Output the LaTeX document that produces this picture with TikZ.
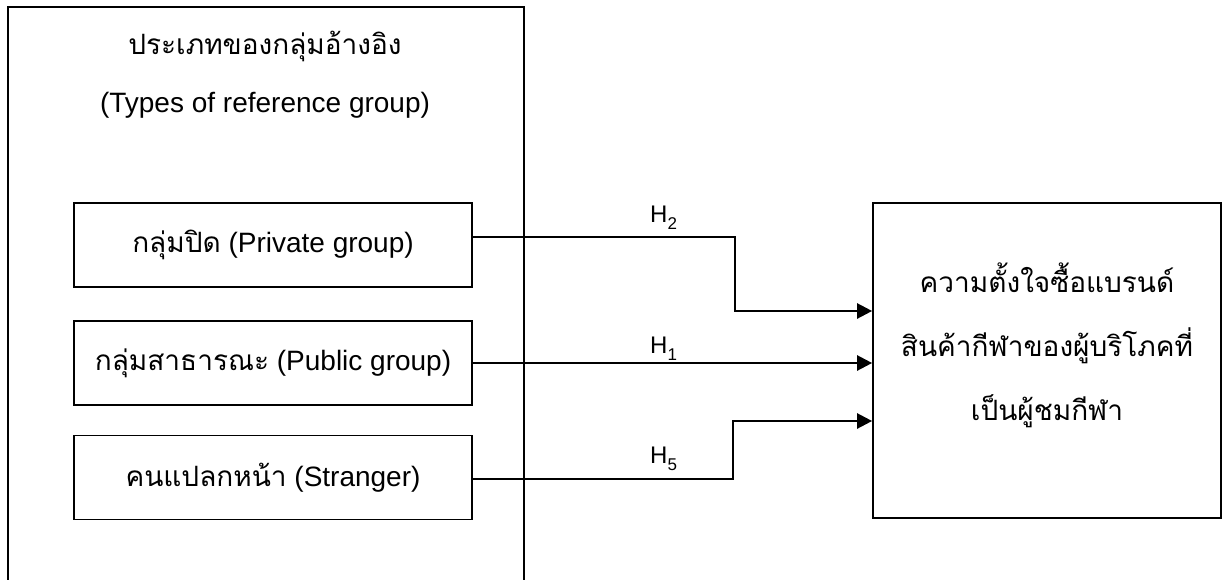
\documentclass[tikz,border=0pt]{standalone}
\usepackage{fontspec}
\setmainfont{Liberation Sans}
\newfontfamily\thai[Script=Thai]{Loma}
\usetikzlibrary{arrows.meta}
\begin{document}
\begin{tikzpicture}[x=1pt,y=-1pt,
  txt/.style={font=\fontsize{28}{34}\selectfont, inner sep=0pt, anchor=base},
  grpbox/.style={draw, line width=1.3pt, minimum width=398pt, minimum height=84pt,
    inner sep=0pt, font=\fontsize{28}{34}\selectfont},
  outbox/.style={draw, line width=1.7pt, minimum width=348pt, minimum height=315pt, inner sep=0pt},
  conn/.style={line width=2.4pt, -{Triangle[length=15pt,width=15pt]}},
  hlab/.style={font=\fontsize{24}{28}\selectfont, inner sep=0pt, anchor=base west}
]
\useasboundingbox (0,0) rectangle (1230,580);
% outer frame (open at the bottom)
\draw[line width=2pt] (8,580) -- (8,7) -- (524,7) -- (524,580);
% title
\node[txt] (t1) at (265,55) {\thai ประเภทของกลุ่มอ้างอิง};
\node[txt] (t2) at (265,113) {(Types of reference group)};
% group boxes
\node[grpbox] (b1) at (273,245) {{\thai กลุ่มปิด} (Private group)};
\node[grpbox] (b2) at (273,363) {{\thai กลุ่มสาธารณะ} (Public group)};
\node[grpbox] (b3) at (273,477.5) {{\thai คนแปลกหน้า} (Stranger)};
% outcome box
\node[outbox] (out) at (1047,360.5) {};
\node[txt] (o1) at (1047,292) {\thai ความตั้งใจซื้อแบรนด์};
\node[txt] (o2) at (1047,356) {\thai สินค้ากีฬาของผู้บริโภคที่};
\node[txt] (o3) at (1047,420) {\thai เป็นผู้ชมกีฬา};
% connectors
\coordinate (k2) at (735,311);
\coordinate (k5) at (733,421);
\draw[conn] ([yshift=8pt]b1.east) -| (k2) -- (k2 -| out.west);
\draw[conn] (b2.east) -- (b2.east -| out.west);
\draw[conn] ([yshift=-1.5pt]b3.east) -| (k5) -- (k5 -| out.west);
% labels
\node[hlab] (h2) at (650,222) {H\raisebox{-7pt}{\fontsize{17}{17}\selectfont 2}};
\node[hlab] (h1) at (650,353) {H\raisebox{-7pt}{\fontsize{17}{17}\selectfont 1}};
\node[hlab] (h5) at (650,463) {H\raisebox{-7pt}{\fontsize{17}{17}\selectfont 5}};
\end{tikzpicture}
\end{document}
